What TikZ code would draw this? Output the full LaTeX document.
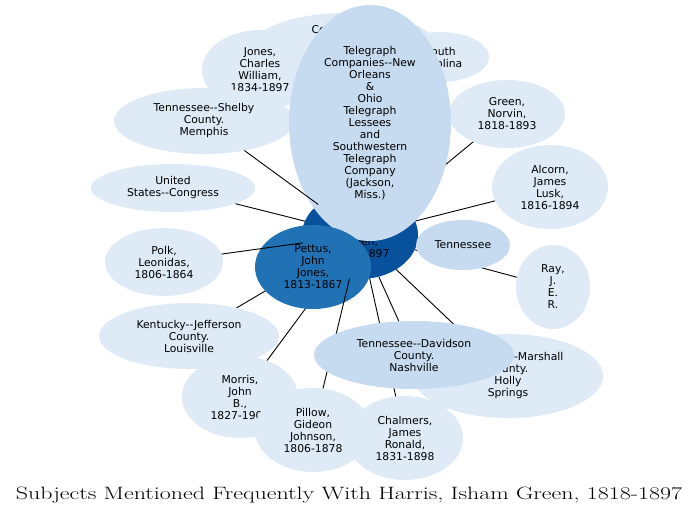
\documentclass[tikz,border=0pt]{standalone}
\usepackage{fontspec}
\usepackage{graphicx}
\newfontfamily\nodefont{DejaVu Sans}
\usetikzlibrary{shapes.geometric}
\definecolor{lightb}{RGB}{222,235,247}
\definecolor{midb}{RGB}{198,219,239}
\definecolor{pettusb}{RGB}{33,113,181}
\definecolor{darkb}{RGB}{8,81,156}
\pgfdeclarelayer{bg}
\pgfdeclarelayer{mid}
\pgfdeclarelayer{top}
\pgfsetlayers{bg,main,mid,top}
\begin{document}
\begin{tikzpicture}[x=1pt,y=-1pt,
  subj/.style={ellipse, inner sep=0pt, outer sep=0pt, align=center,
    font=\nodefont\fontsize{10.8}{12}\selectfont, fill=lightb, draw=none},
  sz/.style 2 args={minimum width=#1pt, minimum height=#2pt},
  link/.style={draw=black, line width=0.9pt},
  ]
\useasboundingbox (0,0) rectangle (700,516);
% back nodes
\node[subj, sz={184}{68}] (conf) at (345,47) {Confederate\\States\\of\\America};
\node[subj, sz={116}{80}] (jones) at (260,70) {Jones,\\Charles\\William,\\1834-1897};
\node[subj, sz={98}{50}] (sc) at (440,57) {South\\Carolina};
\node[subj, sz={180}{66}] (shelby) at (204,121) {Tennessee--Shelby\\County.\\Memphis};
\node[subj, sz={116}{68}] (green) at (507,114) {Green,\\Norvin,\\1818-1893};
\node[subj, sz={164}{48}] (usc) at (173,188) {United\\States--Congress};
\node[subj, sz={116}{84}] (alcorn) at (550,187) {Alcorn,\\James\\Lusk,\\1816-1894};
\node[subj, fill=darkb, sz={116}{88}] (harris) at (360,235) {Harris,\\Isham\\Green,\\1818-1897};
\node[subj, fill=midb, sz={162}{236}] (tel) at (370,123) {Telegraph\\Companies--New\\Orleans\\\&\\Ohio\\Telegraph\\Lessees\\and\\Southwestern\\Telegraph\\Company\\(Jackson,\\Miss.)};
\node[subj, fill=pettusb, sz={116}{84}] (pettus) at (313,267) {Pettus,\\John\\Jones,\\1813-1867};
% front nodes
\begin{pgfonlayer}{top}
\node[subj, fill=midb, sz={94}{50}] (tenn) at (463,245) {Tennessee};
\node[subj, sz={118}{68}] (polk) at (164,262) {Polk,\\Leonidas,\\1806-1864};
\node[subj, sz={74}{84}] (ray) at (553,287) {Ray,\\J.\\E.\\R.};
\node[subj, sz={180}{66}] (ky) at (189,336) {Kentucky--Jefferson\\County.\\Louisville};
\node[subj, sz={190}{84}] (marshall) at (508,376) {Mississippi--Marshall\\County.\\Holly\\Springs};
\node[subj, fill=midb, sz={200}{68}] (davidson) at (414,355) {Tennessee--Davidson\\County.\\Nashville};
\node[subj, sz={116}{82}] (morris) at (240,397) {Morris,\\John\\B.,\\1827-1900};
\node[subj, sz={116}{84}] (pillow) at (313,430) {Pillow,\\Gideon\\Johnson,\\1806-1878};
\node[subj, sz={116}{84}] (chalmers) at (405,438) {Chalmers,\\James\\Ronald,\\1831-1898};
\end{pgfonlayer}
% connectors
\begin{pgfonlayer}{bg}
\foreach \t in {conf,jones,sc,tel,green,usc,alcorn,pettus,tenn,ray,ky,marshall,davidson,morris,chalmers}
  \draw[link] (harris) -- (\t);
\end{pgfonlayer}
\begin{pgfonlayer}{mid}
\foreach \t in {shelby,polk,pillow}
  \draw[link] (harris) -- (\t);
\end{pgfonlayer}
% title
\node[anchor=base, inner sep=0pt] (title) at (349,499)
  {\resizebox{666pt}{12.5pt}{\fontsize{18}{21}\selectfont Subjects Mentioned Frequently With Harris, Isham Green, 1818-1897}};
\end{tikzpicture}
\end{document}
